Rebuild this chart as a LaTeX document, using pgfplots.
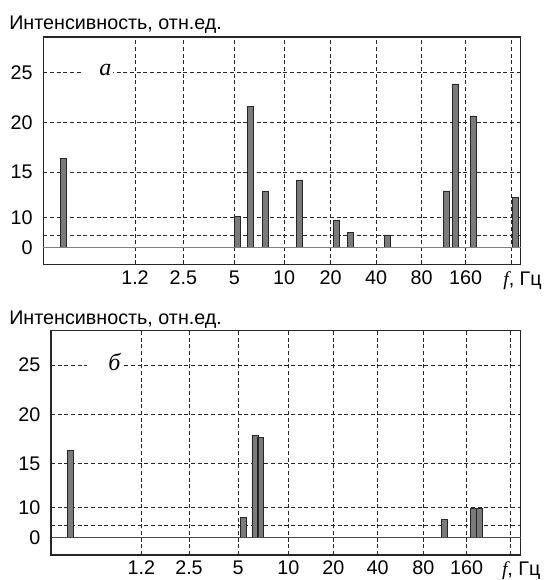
\documentclass[border=0pt]{standalone}
\usepackage{pgfplots}
\pgfplotsset{compat=1.18}
\usepackage{fontspec}
\setmainfont{Liberation Sans}
\newfontfamily\tnr{Liberation Serif}
\definecolor{barfill}{RGB}{122,122,122}
\pgfplotsset{
  panel/.style={
    x=0.75pt, y=0.75pt,
    anchor=south west,
    xmax=520.7,
    axis line style={black!85, line width=0.8pt},
    major tick length=0pt,
    grid=major,
    major grid style={black!85, line width=0.7pt, dash pattern=on 3pt off 2pt},
    ticklabel style={font=\fontsize{14.8}{17}\selectfont},
    /pgf/number format/assume math mode=true,
    yticklabel style={xshift=-4.5pt},
    xticklabel style={yshift=-1pt},
    clip=false,
  },
  bars/.style={ybar, bar width=6, bar shift=0pt, fill=barfill, draw=black!85, line width=0.6pt},
}
\begin{document}
\begin{tikzpicture}
\useasboundingbox (0,0) rectangle (412.5pt,435pt);
% ---------- panel a ----------
\begin{axis}[panel,
  at={(32.475pt,236.625pt)},
  xmin=43.3, ymin=-16.8, ymax=210.7,
  xtick={135,183.3,234.3,284,330.7,376,421.7,465.7,511},
  xticklabels={1.2,2.5,5,10,20,40,80,160,{}},
  ytick={0,12.7,30.4,75.4,125.4,175.4},
  yticklabels={0,{},10,15,20,25},
]
\addplot[bars] coordinates {
  (63,89.4) (237.5,31) (250.2,141.5) (265.7,56) (299.3,67.7) (336.5,27.7)
  (350.3,15.4) (387.2,12.7) (446.2,56.7) (455.8,163.7) (473,131.7) (515.5,50.4)};
\addplot[gray, line width=1pt] coordinates {(43.3,0) (520.7,0)};
\node[fill=white, anchor=base east, text width=21pt, align=right, inner xsep=1pt, inner ysep=1pt,
  font=\tnr\itshape\fontsize{18}{18}\selectfont] at (axis cs:113,171.7) {а};
\end{axis}
% ---------- panel b ----------
\begin{axis}[panel,
  at={(38.25pt,18.75pt)},
  xmin=51, ymin=-17.3, ymax=207,
  xtick={141.3,189,238,288.3,333.3,377.7,423.3,466.7,510.7},
  xticklabels={1.2,2.5,5,10,20,40,80,160,{}},
  ytick={0,12.4,30,74,123.4,172.7},
  yticklabels={0,{},10,15,20,25},
]
\addplot[bars] coordinates {
  (70,87.4) (243.7,20.5) (254.9,102.3) (260.7,100.6) (444.8,18.4) (473.3,29.4) (479.3,29.4)};
\addplot[black!70, line width=1pt] coordinates {(51,0) (520.7,0)};
\node[fill=white, anchor=base east, text width=24pt, align=right, inner xsep=1pt, inner ysep=1pt,
  font=\tnr\itshape\fontsize{18}{18}\selectfont] at (axis cs:122,167.2) {б};
\end{axis}
% ---------- titles ----------
\node[anchor=base west, inner sep=0, font=\fontsize{14.8}{17}\selectfont] at (6.75pt,413pt) {Интенсивность, отн.ед.};
\node[anchor=base west, inner sep=0, font=\fontsize{14.8}{17}\selectfont] at (6.75pt,191.5pt) {Интенсивность, отн.ед.};
\node[anchor=base west, inner sep=0, font=\fontsize{14.8}{17}\selectfont] at (377.25pt,220.5pt) {{\tnr\itshape f}, Гц};
\node[anchor=base west, inner sep=0, font=\fontsize{14.8}{17}\selectfont] at (376.3pt,3pt) {{\tnr\itshape f}, Гц};
\end{tikzpicture}
\end{document}
